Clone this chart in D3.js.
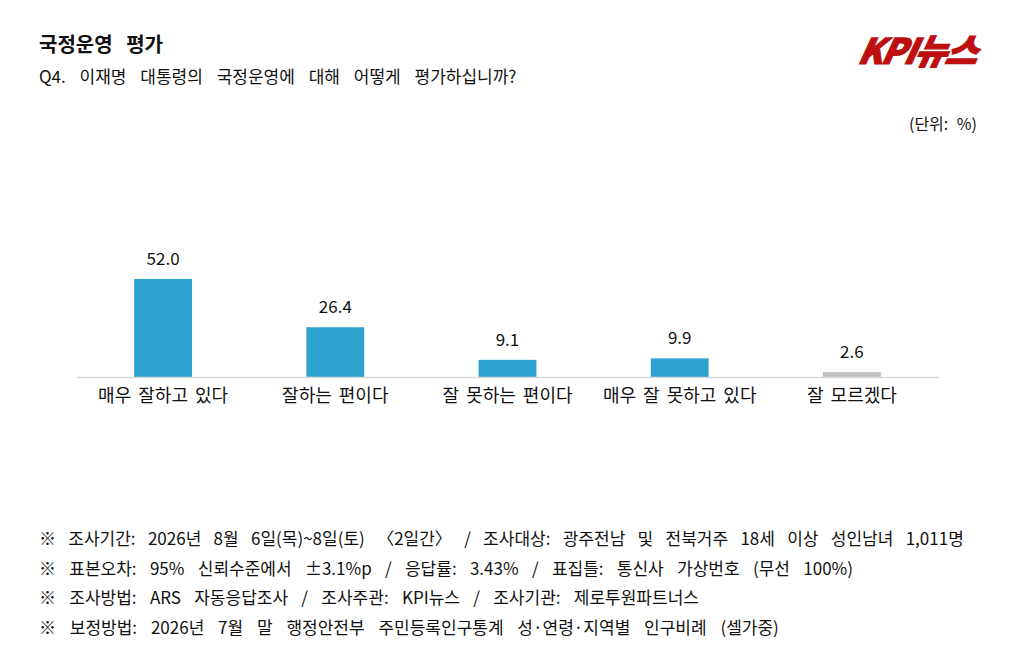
<!DOCTYPE html>
<html>
<head>
<meta charset="utf-8">
<script src="https://cdn.jsdelivr.net/npm/d3@7"></script>
<style>
  body { margin: 0; background: #fff; }
  svg { display: block; font-family: "Noto Sans CJK KR", "Noto Sans", sans-serif; }
</style>
</head>
<body>
<svg id="canvas" width="1025" height="665"></svg>
<script>
// chart data
let categories = ['매우 잘하고 있다', '잘하는 편이다', '잘 못하는 편이다', '매우 잘 못하고 있다', '잘 모르겠다']
let values = [52.0, 26.4, 9.1, 9.9, 2.6]
let barColors = ['#2ca3cf', '#2ca3cf', '#2ca3cf', '#2ca3cf', '#c0c0c0']

let title = '국정운영 평가'
let question = 'Q4. 이재명 대통령의 국정운영에 대해 어떻게 평가하십니까?'
let unitLabel = '(단위: %)'
let notes = [
  '※ 조사기간: 2026년 8월 6일(목)~8일(토) 〈2일간〉 / 조사대상: 광주전남 및 전북거주 18세 이상 성인남녀 1,011명',
  '※ 표본오차: 95% 신뢰수준에서 ±3.1%p / 응답률: 3.43% / 표집틀: 통신사 가상번호 (무선 100%)',
  '※ 조사방법: ARS 자동응답조사 / 조사주관: KPI뉴스 / 조사기관: 제로투원파트너스',
  '※ 보정방법: 2026년 7월 말 행정안전부 주민등록인구통계 성·연령·지역별 인구비례 (셀가중)'
]
let noteSpacing = [8.5, 9.5, 9.5, 10]

let canvas = d3.select('#canvas')

let left = 77
let right = 938
let baseline = 377

let xScale = d3.scaleBand()
  .domain(categories)
  .range([left, right])
  .paddingInner(0.664)
  .paddingOuter(0.332)

// 52 -> ~98px
let yScale = d3.scaleLinear()
  .domain([0, 100])
  .range([baseline, baseline - 188.5])

// header
canvas.append('text')
  .attr('x', 39).attr('y', 52)
  .attr('font-size', 20).attr('font-weight', 700)
  .attr('word-spacing', 9)
  .attr('fill', '#111')
  .text(title)

canvas.append('text')
  .attr('x', 39).attr('y', 83)
  .attr('font-size', 17)
  .attr('word-spacing', 10)
  .attr('fill', '#111')
  .text(question)

canvas.append('text')
  .attr('x', 916).attr('y', 64)
  .attr('text-anchor', 'middle')
  .attr('font-size', 35).attr('font-weight', 900)
  .attr('font-style', 'italic')
  .attr('letter-spacing', -1.5)
  .attr('fill', '#bd0f0f')
  .attr('stroke', '#bd0f0f').attr('stroke-width', 1.2)
  .attr('transform', 'translate(916,0) skewX(-12) translate(-916,0) translate(13,0)')
  .text('KPI뉴스')

canvas.append('text')
  .attr('x', 977).attr('y', 130)
  .attr('text-anchor', 'end')
  .attr('font-size', 16)
  .attr('word-spacing', 5)
  .attr('fill', '#111')
  .text(unitLabel)

// bars
let bars = canvas.selectAll('.bar')
  .data(values)
  .enter()
  .append('g')
  .attr('class', 'bar')

bars.append('rect')
  .attr('x', (d, i) => xScale(categories[i]))
  .attr('y', (d) => yScale(d))
  .attr('width', xScale.bandwidth())
  .attr('height', (d) => yScale(0) - yScale(d))
  .attr('fill', (d, i) => barColors[i])

bars.append('text')
  .attr('x', (d, i) => xScale(categories[i]) + xScale.bandwidth() / 2)
  .attr('y', (d) => yScale(d) - 14)
  .attr('text-anchor', 'middle')
  .attr('font-size', 17)
  .attr('fill', '#111')
  .text((d) => d.toFixed(1))

// axis
let xAxis = d3.axisBottom(xScale).tickSize(0).tickPadding(12)
let axisG = canvas.append('g')
  .attr('transform', 'translate(0,' + baseline + ')')
  .call(xAxis)
axisG.select('.domain').attr('stroke', '#d9d9d9').attr('stroke-width', 1.5)
axisG.selectAll('.tick text')
  .attr('font-size', 18)
  .attr('word-spacing', 3)
  .attr('font-family', '"Noto Sans CJK KR", sans-serif')
  .attr('fill', '#111')

// footnotes
canvas.selectAll('.note')
  .data(notes)
  .enter()
  .append('text')
  .attr('class', 'note')
  .attr('x', 39)
  .attr('y', (d, i) => 545 + i * 29.5)
  .attr('font-size', 17)
  .attr('word-spacing', (d, i) => noteSpacing[i])
  .attr('fill', '#111')
  .text((d) => d)
</script>
</body>
</html>
